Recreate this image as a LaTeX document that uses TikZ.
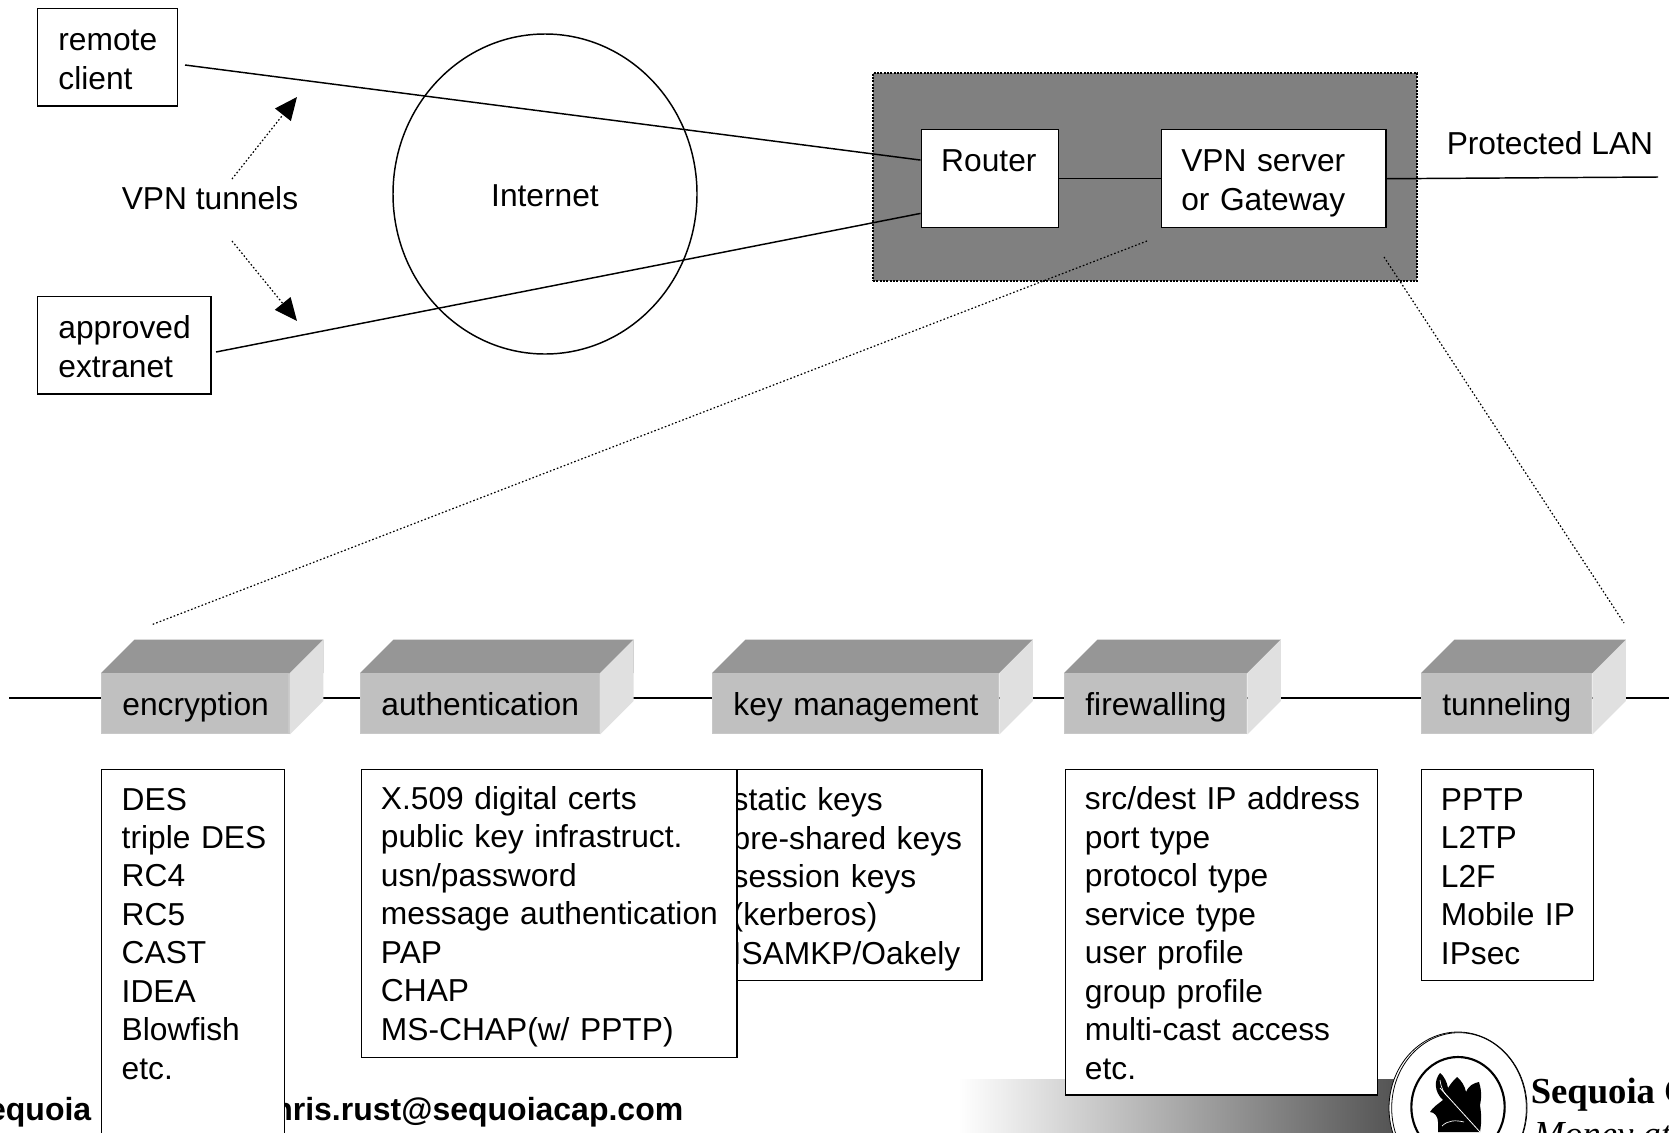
\documentclass[tikz,border=0pt]{standalone}
\usepackage{fontspec}
\setmainfont{Liberation Sans}
\newfontfamily\logofont{Liberation Serif}
\usetikzlibrary{positioning,arrows.meta,shapes.geometric}

\tikzset{
    lbl/.style={font=\fontsize{23.8}{28.85}\selectfont},
    pad/.style={execute at begin node={\leftskip=#1\relax}},
    sink/.style={execute at begin node={\rule{0pt}{\dimexpr 17.4pt+#1\relax}}},
    whitebox/.style={lbl,draw,fill=white,anchor=north west,align=left,inner sep=0pt,pad=15pt},
    blockbox/.style={lbl,fill=frontgray,draw=edgegray,anchor=north west,align=left,inner sep=0pt,pad=15.5pt,
        minimum height=45pt,text height=22pt,text depth=5pt},
    dotline/.style={line width=.9pt,dash pattern=on 1.2pt off 1.6pt},
    mail/.style={font=\fontsize{24}{28.7}\bfseries\selectfont,inner sep=0pt}
}
\definecolor{frontgray}{HTML}{C0C0C0}
\definecolor{edgegray}{HTML}{C8C8C8}
\definecolor{topgray}{HTML}{969696}
\definecolor{sidegray}{HTML}{E0E0E0}
\definecolor{langray}{HTML}{808080}

\begin{document}
\begin{tikzpicture}[x=.75pt,y=-.75pt,line width=1.1pt]
    \useasboundingbox (0,0) rectangle (1669,1132);

    % top part
    \node[draw,line width=1.5pt,dash pattern=on 1.5pt off 1pt,fill=langray,anchor=north west,minimum width=408pt,minimum height=156pt,inner sep=0pt] (lan) at (872,72) {};
    \node[ellipse,draw,minimum width=228pt,minimum height=240pt,inner sep=0pt] (inet) at (545,194) {};
    \node[lbl] (inetlbl) at (545,196) {Internet};

    \node[whitebox,pad=15.5pt,sink=1.5pt,minimum height=73pt,text width=105pt] (remote) at (37,8) {remote\\client};
    \node[whitebox,pad=15.5pt,sink=1.6pt,minimum height=73pt,text width=130pt] (extranet) at (37,296) {approved\\extranet};
    \node[whitebox,sink=0pt,minimum height=73.5pt,text width=103pt] (router) at (920.5,129) {Router\\~};
    \node[whitebox,sink=5.6pt,minimum height=73.5pt,text width=168.5pt] (vpn) at (1160.5,129) {VPN server\\or Gateway};
    \node[lbl,anchor=west,inner sep=0pt] (lanlbl) at (1446,143) {Protected LAN};
    \node[lbl] (tunnels) at (210,198) {VPN tunnels};

    \coordinate (remoteout) at (185,65);
    \coordinate (extraout) at (216,352);
    \coordinate (lanend) at (1658,177);
    \draw (remoteout) -- ([yshift=14pt]router.west);
    \draw (extraout) -- ([yshift=-26pt]router.west);
    \draw (router.east) -- (vpn.west);
    \draw (vpn.east) -- (lanend);

    \coordinate (tunup) at (232,179);
    \coordinate (tunupend) at (297,97);
    \coordinate (tundown) at (232,241);
    \coordinate (tundownend) at (297,321);
    \draw[dotline,-{Triangle[length=17pt,width=15pt]}] (tunup) -- (tunupend);
    \draw[dotline,-{Triangle[length=17pt,width=15pt]}] (tundown) -- (tundownend);

    % zoom lines
    \coordinate (zoomleft) at (1147,241);
    \coordinate (encend) at (151,625);
    \coordinate (zoomright) at (1384,257);
    \coordinate (tunend) at (1624,623);
    \draw[dotline] (zoomleft) -- (encend);
    \draw[dotline] (zoomright) -- (tunend);

    % bus and blocks
    \coordinate (busleft) at (9,698);
    \coordinate (busright) at (1669,698);
    \draw (busleft) -- (busright);

    \node[blockbox,text width=140.5pt] (enc)  at (101,673)  {encryption};
    \node[blockbox,text width=179pt]   (auth) at (360,673)  {authentication};
    \node[blockbox,text width=214.5pt] (key)  at (712,673)  {key management};
    \node[blockbox,text width=136.5pt] (fire) at (1064,673) {firewalling};
    \node[blockbox,text width=127.5pt] (tun)  at (1421,673) {tunneling};
    \foreach \n in {enc,auth,key,fire,tun} {
        \fill[topgray] (\n.north west) -- ++(33.5,-33.5) -| ([xshift=25.1pt]\n.north east) -- (\n.north east) -- cycle;
        \fill[sidegray] (\n.north east) -- ++(33.5,-33.5) -- ([shift={(25.1pt,25.1pt)}]\n.south east) -- (\n.south east) -- cycle;
    }

    % footer
    \shade[left color=white,right color=black!68] (958,1079) rectangle (1400,1132);
    \node[mail,anchor=east] (sequoia) at (92,1112) {Sequoia};
    \node[mail,anchor=east] (mailto) at (684,1112) {chris.rust@sequoiacap.com};

    \node[ellipse,draw,fill=white,line width=.6pt,minimum width=103.5pt,minimum height=114pt,inner sep=0pt] (logoout) at (1458,1108) {};
    \node[ellipse,draw,line width=.6pt,minimum width=101pt,minimum height=113pt,inner sep=0pt] (logoring) at (1459,1108) {};
    \node[ellipse,draw,line width=1.6pt,minimum width=70pt,minimum height=75pt,inner sep=0pt] (logoin) at (1458,1107) {};
    \fill (1440,1073) .. controls (1434,1080) and (1434,1092) .. (1443,1100)
        .. controls (1438,1104) and (1433,1107) .. (1430,1112)
        .. controls (1434,1112) and (1438,1116) .. (1438,1122) -- (1438,1132) -- (1480,1132)
        .. controls (1482,1120) and (1481,1112) .. (1480,1105)
        .. controls (1482,1096) and (1481,1088) .. (1479,1082)
        .. controls (1474,1083) and (1469,1085) .. (1466,1092)
        .. controls (1465,1086) and (1461,1080) .. (1457,1077)
        .. controls (1454,1080) and (1451,1083) .. (1448,1088)
        .. controls (1447,1082) and (1444,1076) .. (1440,1073) -- cycle;
    \draw[white,line width=.6pt] (1440,1088) -- (1480,1132);
    \draw[white,line width=.5pt] (1440,1080) .. controls (1441,1088) and (1444,1094) .. (1449,1098);
    \draw[white,line width=.5pt] (1442,1126) .. controls (1448,1120) and (1456,1120) .. (1464,1122);
    \node[anchor=west,inner sep=0pt,font=\logofont\fontsize{27.5}{30}\bfseries\selectfont] (logoname) at (1530,1095) {Sequoia C};
    \node[anchor=base west,inner sep=0pt,font=\logofont\fontsize{27.5}{30}\itshape\selectfont] (logomotto) at (1533,1146) {Money at W};

    % lists
    \node[whitebox,sink=12.8pt,text width=137pt] (enclist) at (101,769) {DES\\triple DES\\RC4\\RC5\\CAST\\IDEA\\Blowfish\\etc.\\~\\~};
    \node[whitebox,sink=6.2pt,minimum height=158pt,text width=202pt] (keylist) at (712,769) {static keys\\pre-shared keys\\session keys\\(kerberos)\\ISAMKP/Oakely};
    \node[whitebox,pad=14.4pt,sink=4.1pt,minimum height=216pt,text width=281.5pt] (authlist) at (361,769) {X.509 digital certs\\public key infrastruct.\\usn/password\\message authentication\\PAP\\CHAP\\MS-CHAP(w/ PPTP)};
    \node[whitebox,pad=14.4pt,sink=1pt,minimum height=244pt,text width=234pt] (firelist) at (1065,769) {src/dest IP address\\port type\\protocol type\\service type\\user profile\\group profile\\multi-cast access\\etc.};
    \node[whitebox,pad=14.4pt,sink=1.4pt,minimum height=158pt,text width=129pt] (tunlist) at (1421,769) {PPTP\\L2TP\\L2F\\Mobile IP\\IPsec};
\end{tikzpicture}
\end{document}
